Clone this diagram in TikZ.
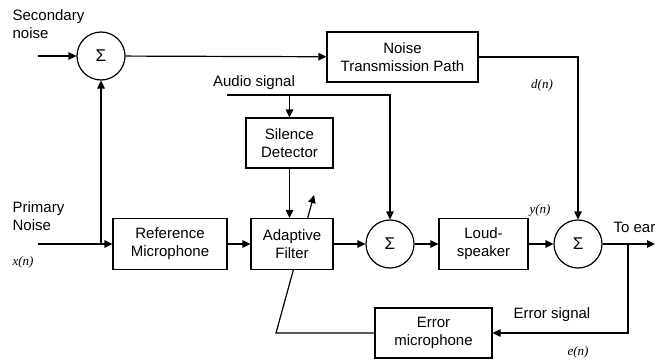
\documentclass[tikz,border=0pt]{standalone}
\usepackage{fontspec}
\setmainfont{Liberation Sans}
\newfontfamily\lblfont{Liberation Serif}
\usetikzlibrary{arrows.meta,backgrounds}
\begin{document}
\begin{tikzpicture}[x=1pt,y=-1pt,
  font=\fontsize{15}{18}\selectfont,
  line width=1.2pt,
  >={Triangle[length=8pt,width=7.5pt]},
  blk/.style={draw, fill=white, align=center, inner sep=0pt},
  sumnode/.style={circle, draw, fill=white, minimum size=48pt, inner sep=0pt, font=\fontsize{17}{17}\selectfont},
  lbl/.style={font=\fontsize{13}{15}\selectfont\lblfont\itshape, inner sep=0pt},
  txt/.style={inner sep=0pt, align=left}]
\useasboundingbox (0,0) rectangle (656,361);

% blocks
\node[blk, minimum width=151pt, minimum height=50pt] (ntp) at (402.5,57) {Noise\\Transmission Path};
\node[blk, minimum width=87pt, minimum height=50pt] (sil) at (289.5,143) {Silence\\Detector};
\node[blk, minimum width=114pt, minimum height=51pt] (ref) at (170,244) {Reference\\Microphone};
\node[blk, minimum width=82pt, minimum height=51pt] (ada) at (292,244) {Adaptive\\Filter};
\node[blk, minimum width=89pt, minimum height=51pt] (ls) at (483.5,244) {Loud-\\speaker};
\node[blk, minimum width=117pt, minimum height=50pt] (emic) at (433.5,333) {Error\\microphone};

% summing junctions
\node[sumnode] (s1) at (101,56) {Σ};
\node[sumnode] (s2) at (390,244) {Σ};
\node[sumnode] (s3) at (578,244) {Σ};

% texts
\node[txt, anchor=west] (tsec) at (12,24) {Secondary\\noise};
\node[txt, anchor=west] (tprim) at (12,216.5) {Primary\\Noise};
\node[lbl] (lx) at (23,262) {x(n)};
\node[txt] (taud) at (254,83) {Audio signal};
\node[lbl] (ld) at (542,85) {d(n)};
\node[lbl] (ly) at (540,210) {y(n)};
\node[txt, anchor=west] (tear) at (613,227) {To ear};
\node[txt] (terr) at (552,315) {Error signal};
\node[lbl] (le) at (578,352) {e(n)};

% coordinates
\coordinate (secin) at (38,56);
\coordinate (pin) at (38,244);
\coordinate (audio) at (227,95);
\coordinate (ear) at (655,244);
\coordinate (fb) at (628,244);
\coordinate (adb) at (276,333);
\coordinate (adt) at (314,195);

% connectors
\draw[->] (secin) -- (s1);
\draw[->] (s1) -- (ntp);
\draw[->] (ntp) -| (s3);
\draw[->] (audio) -| (s2);
\draw[->] (audio -| sil.north) -- (sil.north);
\draw[->] (sil.south) -- (sil.south |- ada.north);
\draw[->] (pin) -- (ref);
\draw[->] (pin -| s1) -- (s1);
\draw[->] (ref) -- (ada);
\draw[->] (ada) -- (s2);
\draw[->] (s2) -- (ls);
\draw[->] (ls) -- (s3);
\draw[->] (s3) -- (ear);
\draw[->] (fb) |- (emic);
\begin{scope}[on background layer]
\draw[->, line width=1.2pt, >={Triangle[length=8pt,width=7.5pt]}] (emic.west) -- (adb) -- (adt);
\end{scope}
\end{tikzpicture}
\end{document}
